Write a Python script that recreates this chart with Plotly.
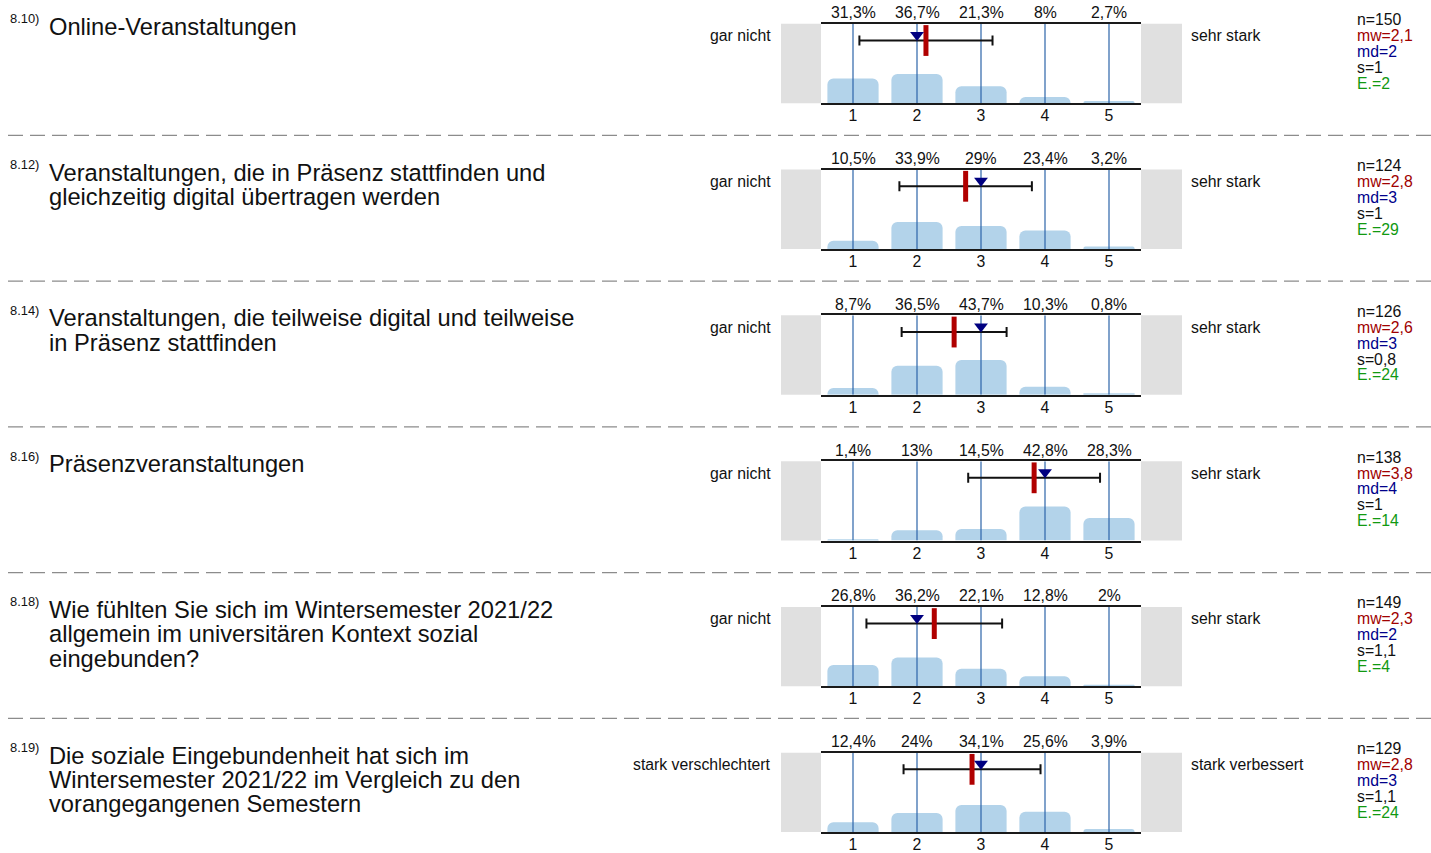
import plotly.graph_objects as go

W, H = 1431, 853

categories = [1, 2, 3, 4, 5]
tick_labels = ["1", "2", "3", "4", "5"]

item_numbers = ["8.10)", "8.12)", "8.14)", "8.16)", "8.18)", "8.19)"]
titles = [
    ["Online-Veranstaltungen"],
    ["Veranstaltungen, die in Präsenz stattfinden und", "gleichzeitig digital übertragen werden"],
    ["Veranstaltungen, die teilweise digital und teilweise", "in Präsenz stattfinden"],
    ["Präsenzveranstaltungen"],
    ["Wie fühlten Sie sich im Wintersemester 2021/22", "allgemein im universitären Kontext sozial", "eingebunden?"],
    ["Die soziale Eingebundenheit hat sich im", "Wintersemester 2021/22 im Vergleich zu den", "vorangegangenen Semestern"],
]
left_labels = ["gar nicht", "gar nicht", "gar nicht", "gar nicht", "gar nicht", "stark verschlechtert"]
right_labels = ["sehr stark", "sehr stark", "sehr stark", "sehr stark", "sehr stark", "stark verbessert"]

pct_1 = [31.3, 36.7, 21.3, 8, 2.7]
pct_2 = [10.5, 33.9, 29, 23.4, 3.2]
pct_3 = [8.7, 36.5, 43.7, 10.3, 0.8]
pct_4 = [1.4, 13, 14.5, 42.8, 28.3]
pct_5 = [26.8, 36.2, 22.1, 12.8, 2]
pct_6 = [12.4, 24, 34.1, 25.6, 3.9]
percents = [pct_1, pct_2, pct_3, pct_4, pct_5, pct_6]

means = [2.14, 2.76, 2.58, 3.83, 2.27, 2.86]
medians = [2, 3, 3, 4, 2, 3]
sds = [1.04, 1.035, 0.82, 1.03, 1.06, 1.07]

n_labels = ["150", "124", "126", "138", "149", "129"]
mw_labels = ["2,1", "2,8", "2,6", "3,8", "2,3", "2,8"]
md_labels = ["2", "3", "3", "4", "2", "3"]
s_labels = ["1", "1", "0,8", "1", "1,1", "1,1"]
e_labels = ["2", "29", "24", "14", "4", "24"]

FONT = "Liberation Sans, Arial, sans-serif"
BAR_COLOR = "#b3d3ea"
GRID_COLOR = "#2c64a8"
MEAN_COLOR = "#b00000"
MEDIAN_COLOR = "#000080"
GREY = "#e0e0e0"

PANEL_TOP0 = 24.0
PANEL_STEP = 146.8
PANEL_H = 80.0
X0, X1 = 821.0, 1141.0


def py(p):
    return 1 - p / H


def px(p):
    return p / W


fig = go.Figure()
annotations = []
shapes = []
layout = {}

for i in range(6):
    k = "" if i == 0 else str(i + 1)
    xa, ya = "x" + k, "y" + k
    top = PANEL_TOP0 + i * PANEL_STEP
    bot = top + PANEL_H

    layout["xaxis" + k] = dict(
        domain=[px(X0), px(X1)], range=[0.5, 5.5], anchor=ya,
        tickvals=categories, ticktext=tick_labels, ticks="",
        tickfont=dict(size=15.8, color="#111", family=FONT),
        ticklabelstandoff=-3,
        showgrid=False, zeroline=False, showline=True, mirror=True,
        linecolor="#1a1a1a", linewidth=2, fixedrange=True,
    )
    layout["yaxis" + k] = dict(
        domain=[max(py(bot), 0), py(top)], range=[0, 100], anchor=xa,
        showgrid=False, zeroline=False, showticklabels=False, showline=False,
        fixedrange=True,
    )

    # grey side boxes
    shapes.append(dict(type="rect", xref="paper", yref="paper",
                       x0=px(781), x1=px(X0), y0=py(bot), y1=py(top),
                       fillcolor=GREY, line_width=0, layer="below"))
    shapes.append(dict(type="rect", xref="paper", yref="paper",
                       x0=px(X1), x1=px(1182), y0=py(bot), y1=py(top),
                       fillcolor=GREY, line_width=0, layer="below"))

    # bars
    fig.add_trace(go.Bar(
        x=categories, y=percents[i], width=0.8, xaxis=xa, yaxis=ya,
        marker=dict(color=BAR_COLOR, cornerradius=6, line_width=0),
        showlegend=False, hoverinfo="skip",
    ))

    # vertical category lines on top of bars
    vx, vy = [], []
    for c in categories:
        vx += [c, c, None]
        vy += [0, 100, None]
    fig.add_trace(go.Scatter(
        x=vx, y=vy, mode="lines", line=dict(color=GRID_COLOR, width=1.2),
        xaxis=xa, yaxis=ya, showlegend=False, hoverinfo="skip",
    ))

    # standard deviation bar
    fig.add_trace(go.Scatter(
        x=[means[i]], y=[79], mode="markers", marker=dict(size=1, opacity=0),
        error_x=dict(type="data", array=[sds[i]], color="#111", thickness=2, width=5),
        xaxis=xa, yaxis=ya, showlegend=False, hoverinfo="skip", cliponaxis=False,
    ))
    # mean
    fig.add_trace(go.Scatter(
        x=[means[i]], y=[79], mode="markers",
        marker=dict(symbol="line-ns", size=22, line=dict(width=5, color=MEAN_COLOR)),
        xaxis=xa, yaxis=ya, showlegend=False, hoverinfo="skip", cliponaxis=False,
    ))
    # median
    fig.add_trace(go.Scatter(
        x=[medians[i]], y=[86], mode="markers",
        marker=dict(symbol="triangle-down", size=12, color=MEDIAN_COLOR),
        xaxis=xa, yaxis=ya, showlegend=False, hoverinfo="skip", cliponaxis=False,
    ))

    # percentage labels
    for c, v in zip(categories, percents[i]):
        annotations.append(dict(
            x=c, y=py(top - 11), xref=xa, yref="paper", showarrow=False,
            text=f"{v:g}".replace(".", ",") + "%", yanchor="middle",
            font=dict(size=15.8, color="#111", family=FONT),
        ))

    # scale end labels
    annotations.append(dict(x=px(773), y=py(top + 12), xref="paper", yref="paper",
                            text=left_labels[i], showarrow=False, xanchor="right",
                            yanchor="middle", font=dict(size=15.8, color="#111", family=FONT)))
    annotations.append(dict(x=px(1189), y=py(top + 12), xref="paper", yref="paper",
                            text=right_labels[i], showarrow=False, xanchor="left",
                            yanchor="middle", font=dict(size=15.8, color="#111", family=FONT)))

    # statistics
    stats = [("n=" + n_labels[i], "#111"), ("mw=" + mw_labels[i], "#a00000"),
             ("md=" + md_labels[i], "#00008b"), ("s=" + s_labels[i], "#111"),
             ("E.=" + e_labels[i], "#119911")]
    for j, (t, col) in enumerate(stats):
        annotations.append(dict(x=px(1355), y=py(top - 4 + 16 * j), xref="paper", yref="paper",
                                text=t, showarrow=False, xanchor="left", yanchor="middle",
                                font=dict(size=15.8, color=col, family=FONT)))

    # item number and title
    annotations.append(dict(x=px(8), y=py(top - 5), xref="paper", yref="paper",
                            text=item_numbers[i], showarrow=False, xanchor="left",
                            yanchor="middle", font=dict(size=12.9, color="#111", family=FONT)))
    for j, line in enumerate(titles[i]):
        annotations.append(dict(x=px(47), y=py(top + 3 + 24.5 * j), xref="paper", yref="paper",
                                text=line, showarrow=False, xanchor="left", yanchor="middle",
                                font=dict(size=23.7, color="#111", family=FONT)))

    # dashed separator
    if i < 5:
        sy = top + 112.3
        shapes.append(dict(type="line", xref="paper", yref="paper",
                           x0=px(8), x1=1, y0=py(sy), y1=py(sy),
                           line=dict(color="#8c8c8c", width=1.3, dash="15px,7px")))

fig.update_layout(
    width=W, height=H, margin=dict(l=0, r=0, t=0, b=0),
    paper_bgcolor="white", plot_bgcolor="rgba(0,0,0,0)",
    annotations=annotations, shapes=shapes, showlegend=False,
    barmode="overlay", font=dict(family=FONT),
    **layout,
)

fig.write_html(
    "out.html", config={"displayModeBar": False},
    post_script="document.body.style.margin='0';",
)
